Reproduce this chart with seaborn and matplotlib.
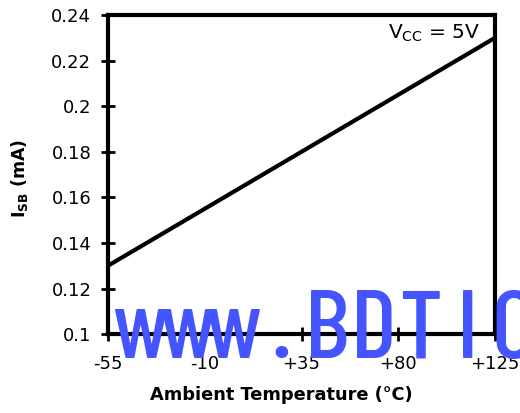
import numpy as np
import pandas as pd
import matplotlib
matplotlib.use("Agg")
import matplotlib.pyplot as plt
import seaborn as sns

# Data
temperature = [-55, 125]
isb_current = [0.13, 0.23]
x_ticks = [-55, -10, 35, 80, 125]
x_tick_labels = ["-55", "-10", "+35", "+80", "+125"]
y_ticks = [0.1, 0.12, 0.14, 0.16, 0.18, 0.2, 0.22, 0.24]
y_tick_labels = ["0.1", "0.12", "0.14", "0.16", "0.18", "0.2", "0.22", "0.24"]
watermark = "www.BDTIC"

sns.set_style("ticks")
plt.rcParams['font.family'] = ['DejaVu Sans']
plt.rcParams['mathtext.fontset'] = 'dejavusans'
plt.rcParams['text.color'] = 'black'
plt.rcParams['axes.labelcolor'] = 'black'

df = pd.DataFrame({"temp": temperature, "isb": isb_current})

fig = plt.figure(figsize=(5.2, 4.13), dpi=100)
ax = fig.add_axes([0.2077, 0.191, 0.7443, 0.7727])

sns.lineplot(data=df, x="temp", y="isb", color="black", linewidth=3, ax=ax)

ax.set_xlim(-55, 125)
ax.set_ylim(0.1, 0.24)
ax.set_xticks(x_ticks)
ax.set_xticklabels(x_tick_labels)
ax.set_yticks(y_ticks)
ax.set_yticklabels(y_tick_labels)

for side in ["left", "right", "top", "bottom"]:
    ax.spines[side].set_visible(True)
    ax.spines[side].set_linewidth(3)
    ax.spines[side].set_color("black")

ax.tick_params(axis="both", direction="inout", length=10, width=2,
               labelsize=13, colors="black")
ax.tick_params(axis="x", pad=10)
ax.tick_params(axis="y", pad=7)

ax.set_xlabel("Ambient Temperature (°C)", fontsize=12.8, fontweight="bold")
ax.xaxis.set_label_coords((281 - 108) / 387, -(395 - 334) / 319, transform=ax.transAxes)
ax.xaxis.label.set_va("center")
ax.set_ylabel(r"I$_{\mathbf{SB}}$ (mA)", fontsize=12.5, fontweight="bold")
ax.yaxis.set_label_coords(-(108 - 20) / 387, (334 - 178) / 319, transform=ax.transAxes)
ax.yaxis.label.set_va("center")

ax.text(0.961, 0.975, r"V$_{\rm CC}$ = 5V", transform=ax.transAxes,
        ha="right", va="top", fontsize=14.5)

# Watermark, spread evenly like a monospaced stamp
start_px, step_px, base_px = 141, 46.6, 358
for i, ch in enumerate(watermark):
    fig.text((start_px + i * step_px) / 520, (413 - base_px) / 413, ch,
             color="#4455ff", fontsize=70, fontweight="medium",
             family=["Barlow Condensed", "DejaVu Sans"],
             ha="center", va="baseline")

fig.savefig("out.png", dpi=100)
